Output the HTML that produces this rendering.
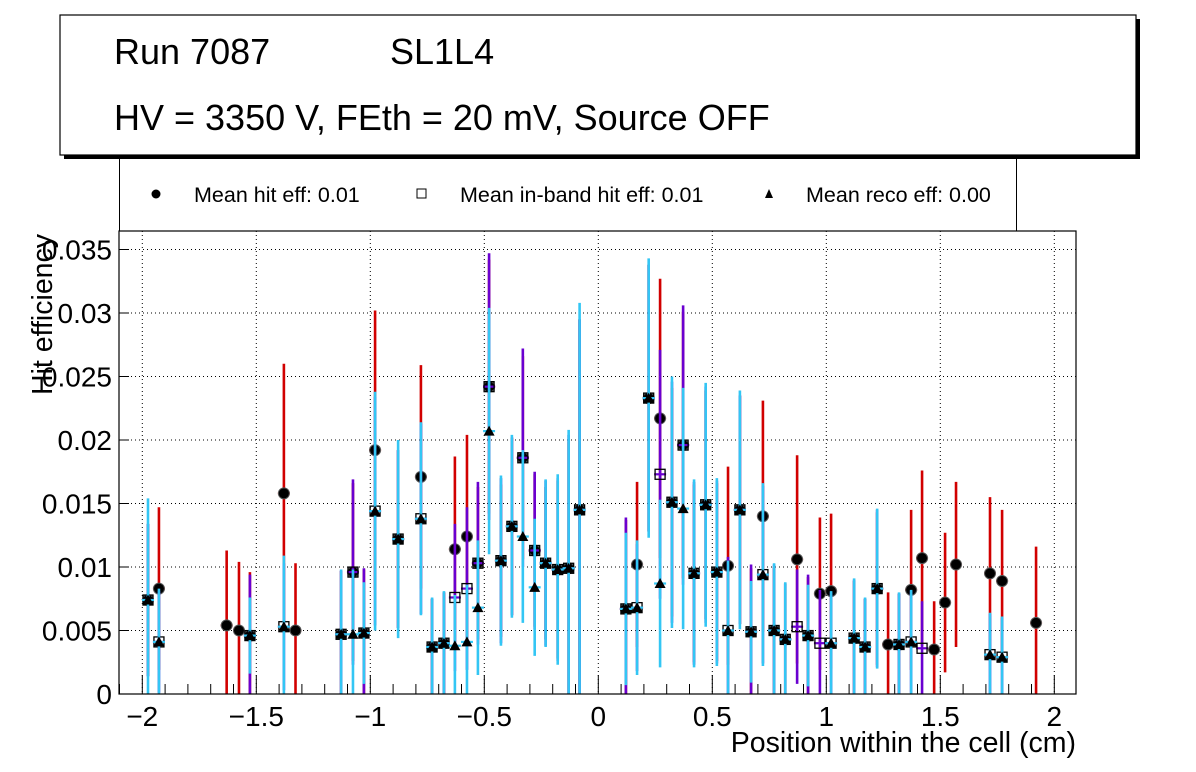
<!DOCTYPE html>
<html><head><meta charset="utf-8">
<style>
body{margin:0;background:#fff;}
svg{display:block;font-family:"Liberation Sans",Arial,sans-serif;}
</style></head>
<body>
<svg id="chart" width="1196" height="772" viewBox="0 0 1196 772" xmlns="http://www.w3.org/2000/svg">
<rect x="0" y="0" width="1196" height="772" fill="#fff"/>
<g>
<rect x="64" y="19" width="1076" height="140" fill="#000"/>
<rect x="60" y="15" width="1076" height="140" fill="#fff" stroke="#000" stroke-width="1.2"/>
<text x="114" y="64" font-size="36">Run 7087</text>
<text x="390" y="64" font-size="36">SL1L4</text>
<text x="114" y="130" font-size="36">HV = 3350 V, FEth = 20 mV, Source OFF</text>
</g>
<g>
<line x1="119.5" y1="159" x2="119.5" y2="231" stroke="#000"/>
<line x1="1016.5" y1="159" x2="1016.5" y2="231" stroke="#000"/>
<circle cx="156" cy="194" r="4.5" fill="#000"/>
<text x="194" y="202" font-size="21.5">Mean hit  eff: 0.01</text>
<rect x="417" y="189" width="9" height="9" fill="#fff" stroke="#000"/>
<text x="460" y="202" font-size="21.5">Mean in-band hit eff: 0.01</text>
<polygon points="769,189 765,198 773,198" fill="#000"/>
<text x="806" y="202" font-size="21.5">Mean reco eff: 0.00</text>
</g>
<g id="plot"></g>
<text transform="translate(52,395) rotate(-90)" font-size="28.5">Hit efficiency</text>
<text x="1076" y="752" font-size="28.5" text-anchor="end">Position within the cell (cm)</text>
</svg>
<script>
// data
const xs=[-1.975,-1.927,-1.63,-1.576,-1.528,-1.379,-1.328,-1.128,-1.076,-1.028,-0.979,-0.878,-0.778,-0.729,-0.677,-0.629,-0.576,-0.528,-0.479,-0.427,-0.379,-0.331,-0.279,-0.231,-0.178,-0.13,-0.082,0.121,0.17,0.221,0.271,0.323,0.372,0.42,0.471,0.52,0.569,0.621,0.67,0.722,0.771,0.82,0.872,0.92,0.972,1.021,1.122,1.17,1.223,1.271,1.319,1.372,1.42,1.473,1.521,1.569,1.718,1.771,1.92];
const hitVals=[0.0074,0.0083,0.0054,0.0050,0.0046,0.0158,0.0050,0.0047,0.0096,0.0048,0.0192,0.0122,0.0171,0.0037,0.0040,0.0114,0.0124,0.0103,0.0242,0.0105,0.0132,0.0186,0.0113,0.0103,0.0098,0.0099,0.0145,0.0067,0.0102,0.0233,0.0217,0.0151,0.0196,0.0095,0.0149,0.0096,0.0101,0.0145,0.0049,0.0140,0.0050,0.0043,0.0106,0.0046,0.0079,0.0081,0.0044,0.0037,0.0083,0.0039,0.0039,0.0082,0.0107,0.0035,0.0072,0.0102,0.0095,0.0089,0.0056];
const hitErrs=[0.006,0.0064,0.0059,0.0054,0.005,0.0102,0.0053,0.005,0.007,0.005,0.011,0.007,0.0088,0.0038,0.004,0.0073,0.008,0.006,0.01,0.006,0.007,0.008,0.006,0.006,0.007,0.01,0.015,0.007,0.0065,0.0105,0.011,0.009,0.0105,0.007,0.009,0.007,0.0078,0.009,0.005,0.0091,0.005,0.0044,0.0082,0.0046,0.006,0.0061,0.0045,0.0038,0.006,0.0041,0.004,0.0063,0.0069,0.0038,0.0055,0.0065,0.006,0.0056,0.006];
const inbandVals=[0.0074,0.0041,null,null,0.0046,0.0053,null,0.0047,0.0096,0.0048,0.0144,0.0122,0.0138,0.0037,0.0040,0.0076,0.0083,0.0103,0.0242,0.0105,0.0132,0.0186,0.0113,0.0103,0.0098,0.0099,0.0145,0.0067,0.0068,0.0233,0.0173,0.0151,0.0196,0.0095,0.0149,0.0096,0.0050,0.0145,0.0049,0.0094,0.0050,0.0043,0.0053,0.0046,0.0040,0.0040,0.0044,0.0037,0.0083,null,0.0039,0.0041,0.0036,null,null,null,0.0031,0.0029,null];
const inbandErrs=[0.006,0.004,0,0,0.0048,0.005,0,0.005,0.0073,0.0051,0.009,0.007,0.0075,0.0038,0.004,0.0058,0.0064,0.0064,0.0105,0.0065,0.007,0.0086,0.0062,0.0065,0.0072,0.0105,0.015,0.0072,0.005,0.0105,0.0098,0.0095,0.011,0.0072,0.0093,0.0072,0.0058,0.009,0.0053,0.007,0.0052,0.0044,0.0045,0.0048,0.0042,0.004,0.0046,0.0038,0.0062,0,0.004,0.004,0.0037,0,0,0,0.0032,0.0031,0];
const recoVals=[0.0074,0.0041,null,null,0.0046,0.0053,null,0.0047,0.0047,0.0048,0.0144,0.0122,0.0138,0.0037,0.0040,0.0038,0.0041,0.0068,0.0207,0.0105,0.0132,0.0124,0.0084,0.0103,0.0098,0.0099,0.0145,0.0067,0.0068,0.0233,0.0087,0.0151,0.0146,0.0095,0.0149,0.0096,0.0050,0.0145,0.0049,0.0094,0.0050,0.0043,null,0.0046,null,0.0040,0.0044,0.0037,0.0083,null,0.0039,0.0041,null,null,null,null,0.0031,0.0029,null];
const recoErrs=[0.008,0.0042,0,0,0.003,0.0056,0,0.0051,0.0051,0.004,0.0094,0.0078,0.0076,0.0039,0.0041,0.004,0.0045,0.0053,0.0097,0.0067,0.0072,0.0068,0.0054,0.0066,0.0075,0.0109,0.0163,0.006,0.0053,0.011,0.0066,0.0099,0.0095,0.0074,0.0096,0.0074,0.0055,0.0094,0.004,0.0072,0.0053,0.0045,0,0.004,0,0.0041,0.0047,0.0039,0.0063,0,0.0041,0.0041,0,0,0,0,0.0033,0.0032,0];
const xTicks=[-2,-1.5,-1,-0.5,0,0.5,1,1.5,2];
const xTickLabels=["\u22122","\u22121.5","\u22121","\u22120.5","0","0.5","1","1.5","2"];
const yTicks=[0,0.005,0.01,0.015,0.02,0.025,0.03,0.035];
const yTickLabels=["0","0.005","0.01","0.015","0.02","0.025","0.03","0.035"];

const L=119,R=1076,T=231,B=694;
const X=v=>598.3+v*228;
const Y=v=>B-v*12700;
const NS="http://www.w3.org/2000/svg";
const plot=document.getElementById('plot');
function mk(tag,attrs,parent){const e=document.createElementNS(NS,tag);for(const k in attrs)e.setAttribute(k,attrs[k]);(parent||plot).appendChild(e);return e;}

const defs=mk('defs',{});
const cp=mk('clipPath',{id:'clip'},defs);
mk('rect',{x:L,y:T,width:R-L,height:B-T},cp);

const grid=mk('g',{});


xTicks.forEach(t=>{mk('line',{x1:X(t),x2:X(t),y1:T,y2:B,stroke:'#000','stroke-width':1,'stroke-dasharray':'1,3'},grid);});
yTicks.forEach(t=>{mk('line',{x1:L,x2:R,y1:Y(t),y2:Y(t),stroke:'#000','stroke-width':1,'stroke-dasharray':'1,3'},grid);});

const data=mk('g',{'clip-path':'url(#clip)'});


function series(vals,errs,color,marker,name){
  const g=mk('g',{},data);
  
  
  xs.forEach((x,i)=>{
    const v=vals[i]; if(v===null)return;
    const cx=X(x),cy=Y(v),e=errs[i];
    if(e>0){const l=mk('line',{x1:cx,x2:cx,y1:Y(v+e),y2:Y(v-e),stroke:color,'stroke-width':2.6},g);
      
      }
    mk('line',{x1:cx-6,x2:cx+6,y1:cy,y2:cy,stroke:color,'stroke-width':2.2},g);
    let m;
    if(marker==='circle'){m=mk('circle',{cx:cx,cy:cy,r:5.5,fill:'#000',stroke:'#555','stroke-width':1},g);}
    else if(marker==='square'){m=mk('rect',{x:cx-5,y:cy-5,width:10,height:10,fill:'none',stroke:'#000','stroke-width':1.3},g);}
    else{m=mk('polygon',{points:`${cx},${cy-5.5} ${cx-5.5},${cy+4.5} ${cx+5.5},${cy+4.5}`,fill:'#000'},g);}
    
    
  });
}
series(hitVals,hitErrs,'#d10000','circle','hit-eff');
series(inbandVals,inbandErrs,'#6a00d0','square','inband-eff');
series(recoVals,recoErrs,'#33c6f4','triangle','reco-eff');

const fr=mk('rect',{x:L,y:T,width:R-L,height:B-T,fill:'none',stroke:'#000','stroke-width':1.2});



const ax=mk('g',{});


for(let k=-21;k<=21;k++){const v=k/10;const px=X(v);if(px<L||px>R)continue;
  const major=Math.abs(v*2-Math.round(v*2))<1e-6;
  mk('line',{x1:px,x2:px,y1:B,y2:B-(major?19:10),stroke:'#000','stroke-width':1},ax);}
xTicks.forEach((t,i)=>{const tx=mk('text',{x:X(t),y:726,'font-size':28,'text-anchor':'middle'},ax);tx.textContent=xTickLabels[i];
  
  });
const ay=mk('g',{});


yTicks.forEach((t,i)=>{mk('line',{x1:L,x2:L+10,y1:Y(t),y2:Y(t),stroke:'#000','stroke-width':1},ay);
  const tx=mk('text',{x:112,y:Y(t)+10,'font-size':28,'text-anchor':'end'},ay);tx.textContent=yTickLabels[i];
  
  });
</script>
</body></html>
